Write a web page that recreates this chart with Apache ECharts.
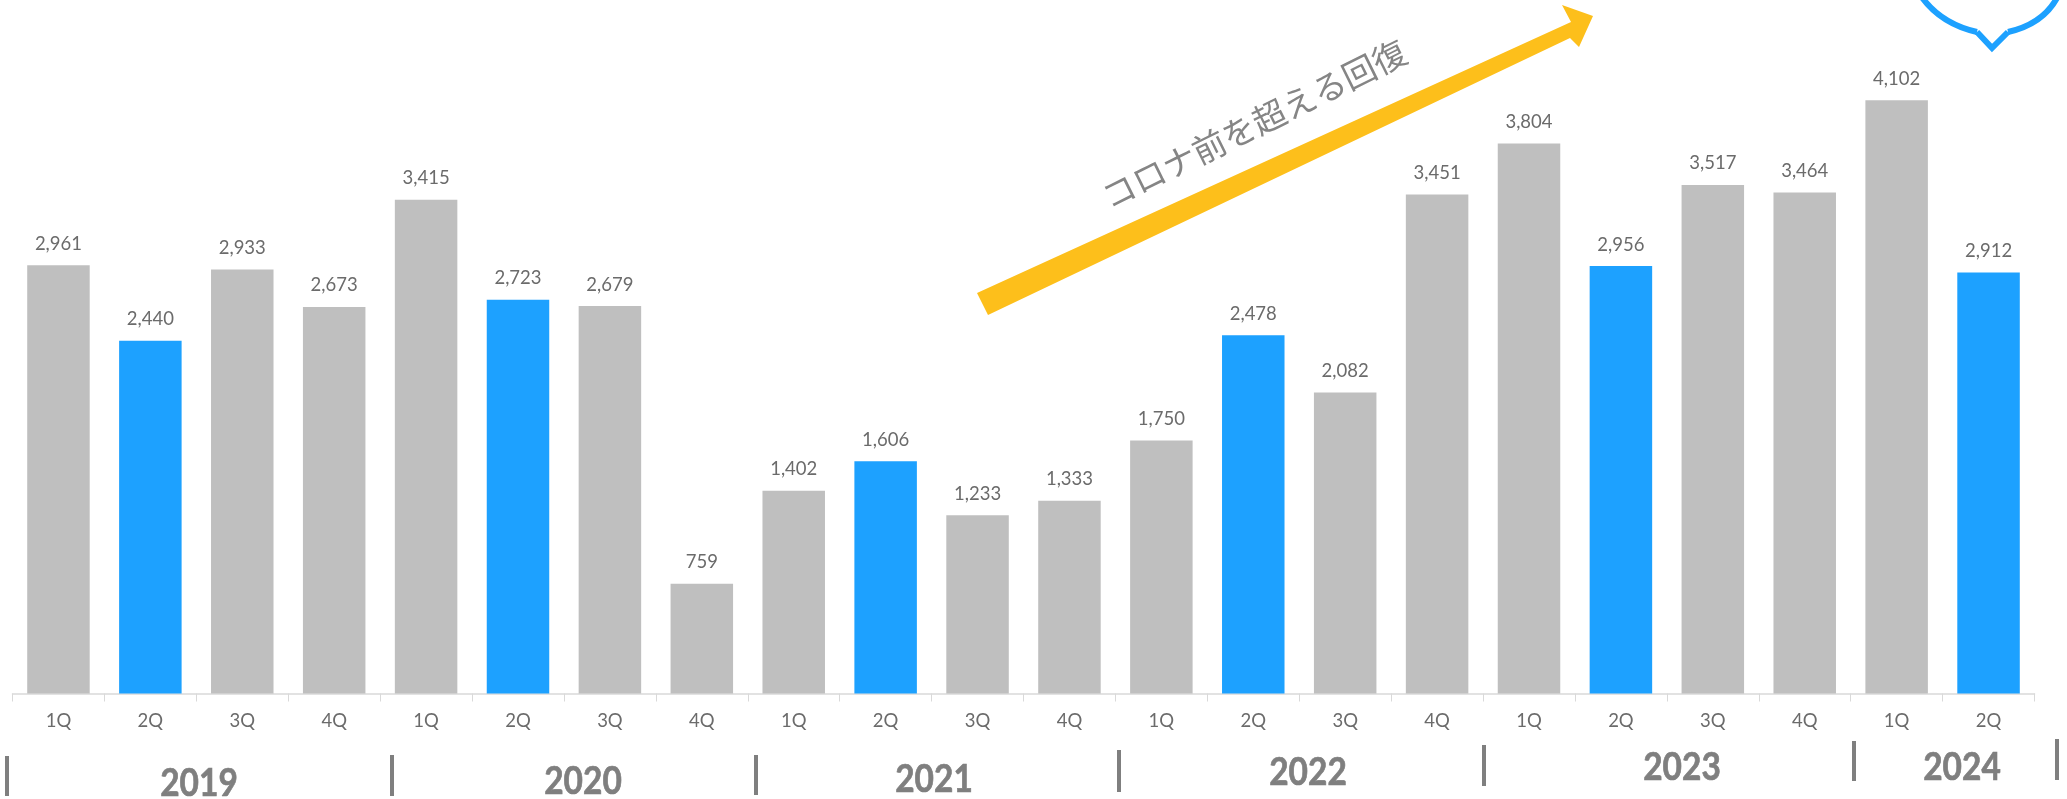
<!DOCTYPE html>
<html>
<head>
<meta charset="utf-8">
<style>html,body{margin:0;padding:0;background:#fff}#chart{width:2067px;height:799px}</style>
<script src="https://cdn.jsdelivr.net/npm/echarts@6/dist/echarts.min.js"></script>
</head>
<body>
<div id="chart"></div>
<script>
// Quarterly results, 1Q 2019 to 2Q 2024
const quarters = ['1Q','2Q','3Q','4Q','1Q','2Q','3Q','4Q','1Q','2Q','3Q','4Q','1Q','2Q','3Q','4Q','1Q','2Q','3Q','4Q','1Q','2Q'];
const values = [2961,2440,2933,2673,3415,2723,2679,759,1402,1606,1233,1333,1750,2478,2082,3451,3804,2956,3517,3464,4102,2912];
const years = ['2019','2020','2021','2022','2023','2024'];
const calloutText = 'コロナ前を超える回復';

const GREY = '#bfbfbf', BLUE = '#1da1ff', TEXT = '#6b6b6b', YEAR = '#7f7f7f';
const FONT = 'Lato, "Noto Sans", sans-serif';

// Year captions: centre x, centre y; separators: x, top, bottom
const yearPos = [[199,784],[583,782],[934,780],[1308,773],[1682,768],[1962,768]];
const seps = [[7,756,796],[392,755,796],[756,755,795],[1119,750,792],[1484,745,786],[1854,741,781],[2057,739,780]];

const chart = echarts.init(document.getElementById('chart'), null, {renderer:'canvas'});

const graphic = [];
years.forEach((y,i) => graphic.push({
  type:'text', x:yearPos[i][0], y:yearPos[i][1], scaleX:0.88,
  style:{text:y, fill:YEAR, stroke:YEAR, lineWidth:0.7, font:'bold 38px '+FONT, align:'center', verticalAlign:'middle'}
}));
seps.forEach(s => graphic.push({
  type:'line', shape:{x1:s[0],y1:s[1],x2:s[0],y2:s[2]},
  style:{stroke:YEAR, lineWidth:4}
}));
// Rising trend arrow
graphic.push({
  type:'polygon',
  shape:{points:[[977,293],[1571,22],[1562,5],[1593,16],[1579,47],[1570,38],[988,315]]},
  style:{fill:'#fdbf1b'}
});
graphic.push({
  type:'text', x:1254, y:124, rotation:26.4*Math.PI/180,
  style:{text:calloutText, fill:'#858585', font:'400 33.5px "Noto Sans CJK JP", sans-serif', align:'center', verticalAlign:'middle'}
});
// Speech bubble running off the top edge
const bubbleStyle = {fill:'none', stroke:BLUE, lineWidth:6};
graphic.push({
  type:'bezierCurve',
  shape:{x1:1921,y1:-4,cpx1:1935,cpy1:16,cpx2:1955,cpy2:27,x2:1977,y2:32},
  style:bubbleStyle
});
graphic.push({
  type:'bezierCurve',
  shape:{x1:2008,y1:32,cpx1:2030,cpy1:27,cpx2:2048,cpy2:16,x2:2058,y2:-4},
  style:bubbleStyle
});
graphic.push({
  type:'polyline',
  shape:{points:[[1977,32],[1992,48],[2008,32]]},
  style:bubbleStyle
});

chart.setOption({
  animation:false,
  grid:{left:12.5, right:32.5, top:0, height:693.5},
  xAxis:{
    type:'category', data:quarters,
    axisLine:{lineStyle:{color:'#d9d9d9',width:1.5}},
    axisTick:{show:true, alignWithLabel:false, length:8, lineStyle:{color:'#d9d9d9'}},
    axisLabel:{color:TEXT, fontFamily:FONT, fontSize:18.5, margin:18, interval:0}
  },
  yAxis:{type:'value', min:0, max:4796, show:false, splitLine:{show:false}},
  series:[{
    type:'bar', barWidth:'68%',
    data:values.map((v,i)=>({value:v, itemStyle:{color: quarters[i]==='2Q' ? BLUE : GREY}})),
    label:{show:true, position:'top', distance:12, color:TEXT, fontFamily:FONT, fontSize:18.5,
      formatter:p=>p.value.toLocaleString('en-US')}
  }],
  graphic
});
</script>
</body>
</html>
